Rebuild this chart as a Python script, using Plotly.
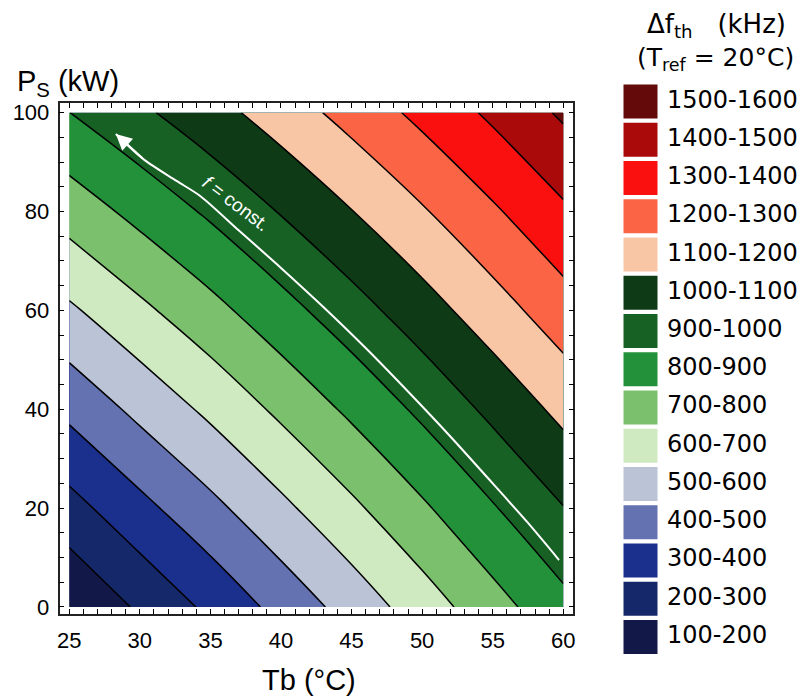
import plotly.graph_objects as go

# ---- data ----
tb = [25, 30, 35, 40, 45, 50, 55, 60]            # Tb (°C)
ps = [0, 20, 40, 60, 80, 100]                     # Ps (kW)
dfth = [                                          # Δf_th (kHz), rows = Ps, cols = Tb
    [103, 215, 322, 432, 540, 650, 761, 870],
    [264, 371, 473, 577, 680, 785, 892, 997],
    [425, 526, 622, 721, 820, 921, 1024, 1127],
    [584, 678, 769, 864, 959, 1056, 1156, 1256],
    [743, 830, 916, 1006, 1097, 1190, 1286, 1384],
    [899, 981, 1063, 1148, 1236, 1326, 1419, 1515],
]

band_labels = ["100-200", "200-300", "300-400", "400-500", "500-600",
               "600-700", "700-800", "800-900", "900-1000", "1000-1100",
               "1100-1200", "1200-1300", "1300-1400", "1400-1500", "1500-1600"]
band_colors = ["#121848", "#15286a", "#1b2f8c", "#6472b2", "#bbc4d6",
               "#cfeac0", "#7bc06c", "#239139", "#176125", "#0e3a16",
               "#f8c5a5", "#fb6545", "#fb1010", "#aa0a0a", "#650a0a"]

# white "f = const." path
const_tb = [28.3, 30.3, 32.6, 34.3, 37.0, 40.0, 43.0, 46.0, 49.0, 52.0, 55.0, 57.5, 59.7]
const_ps = [95.7, 90.5, 86.2, 83.1, 76.2, 68.6, 60.7, 52.4, 43.6, 34.5, 25.0, 17.0, 9.5]

W, H = 803, 696
FONT = "Liberation Sans, Arial, sans-serif"
WIDE = "DejaVu Sans, sans-serif"

# stepwise colour scale: one flat colour per 100 kHz band
n = len(band_colors)
scale = []
for k, c in enumerate(band_colors):
    lo = 0.0 if k == 0 else (k + 0.5) / (n + 1)
    hi = 1.0 if k == n - 1 else (k + 1.5) / (n + 1)
    scale.append([lo, c])
    scale.append([hi, c])

fig = go.Figure()
fig.add_trace(go.Contour(
    x=tb, y=ps, z=dfth,
    autocontour=False,
    contours=dict(start=100, end=1600, size=100, coloring="fill"),
    colorscale=scale, showscale=False,
    line=dict(color="black", width=1.5, smoothing=1.2),
    hoverinfo="skip",
))
fig.add_trace(go.Scatter(
    x=const_tb, y=const_ps, mode="lines",
    line=dict(color="white", width=2, shape="spline", smoothing=0.8),
    hoverinfo="skip", showlegend=False,
))

# legend built on its own hidden axes (x=0 is the swatch column)
LX0 = 620
fig.add_trace(go.Scatter(
    x=[0] * n, y=list(range(n)), mode="markers",
    marker=dict(symbol="square", size=34, color=band_colors, line=dict(width=0)),
    xaxis="x2", yaxis="y2", hoverinfo="skip", showlegend=False,
))
fig.add_trace(go.Scatter(
    x=[1.29] * n, y=list(range(n)), mode="text", text=band_labels,
    textposition="middle right",
    textfont=dict(family=WIDE, size=24, color="black"),
    cliponaxis=False, xaxis="x2", yaxis="y2", hoverinfo="skip", showlegend=False,
))

axis_common = dict(
    ticks="inside", ticklen=5, tickwidth=1, tickcolor="black",
    showline=True, linecolor="#222", linewidth=1.5, mirror="allticks",
    showgrid=False, zeroline=False, automargin=False,
    tickfont=dict(family=FONT, size=22, color="black"),
)

fig.update_layout(
    template="none",
    width=W, height=H, autosize=False,
    margin=dict(l=0, r=0, t=0, b=0, pad=0, autoexpand=False),
    paper_bgcolor="white", plot_bgcolor="white",
    showlegend=False,
    xaxis=dict(domain=[59.5 / W, 573.3 / W], range=[24.31, 60.71],
               tick0=25, dtick=5, ticklabelstandoff=6,
               minor=dict(dtick=1, ticks="inside", ticklen=5, tickcolor="black"),
               **axis_common),
    yaxis=dict(domain=[1 - 613.8 / H, 1 - 103.3 / H], range=[-1.38, 101.9],
               tick0=0, dtick=20, ticklabelstandoff=4,
               minor=dict(dtick=5, ticks="inside", ticklen=5, tickcolor="black"),
               **axis_common),
    # 20.5 px per unit, swatch centre at x = 640.5 px
    xaxis2=dict(domain=[LX0 / W, 1.0], range=[-1, -1 + (W - LX0) / 20.5], visible=False,
                anchor="y2", fixedrange=True, automargin=False),
    yaxis2=dict(domain=[1 - 656 / H, 1 - 82.5 / H], range=[-0.5, n - 0.5],
                visible=False, anchor="x2", fixedrange=True, automargin=False),
    annotations=[
        dict(text="P<sub>S</sub> (kW)", x=15 / W, y=1 - 83 / H, xref="paper", yref="paper",
             xanchor="left", yanchor="middle", showarrow=False,
             font=dict(family=FONT, size=29, color="black")),
        dict(text="Tb (°C)", x=309 / W, y=1 - 680 / H, xref="paper", yref="paper",
             xanchor="center", yanchor="middle", showarrow=False,
             font=dict(family=FONT, size=29, color="black")),
        dict(text="Δf<sub>th</sub>&nbsp;&nbsp; (kHz)", x=716 / W, y=1 - 25 / H,
             xref="paper", yref="paper",
             xanchor="center", yanchor="middle", showarrow=False,
             font=dict(family=WIDE, size=26, color="black")),
        dict(text="(T<sub>ref</sub> = 20°C)", x=715 / W, y=1 - 59 / H, xref="paper", yref="paper",
             xanchor="center", yanchor="middle", showarrow=False,
             font=dict(family=WIDE, size=25, color="black")),
        dict(text="<i>f</i> = const.", x=36.8, y=81.6, xref="x", yref="y",
             textangle=37, showarrow=False,
             font=dict(family=FONT, size=19, color="white")),
        dict(text="", x=const_tb[0], y=const_ps[0], ax=const_tb[1], ay=const_ps[1],
             xref="x", yref="y", axref="x", ayref="y",
             showarrow=True, arrowhead=2, arrowsize=1.6, arrowwidth=2, arrowcolor="white"),
    ],
)

fig.write_html(
    "out.html",
    config={"displayModeBar": False},
    post_script="document.body.style.margin='0';document.body.style.overflow='hidden';",
)
